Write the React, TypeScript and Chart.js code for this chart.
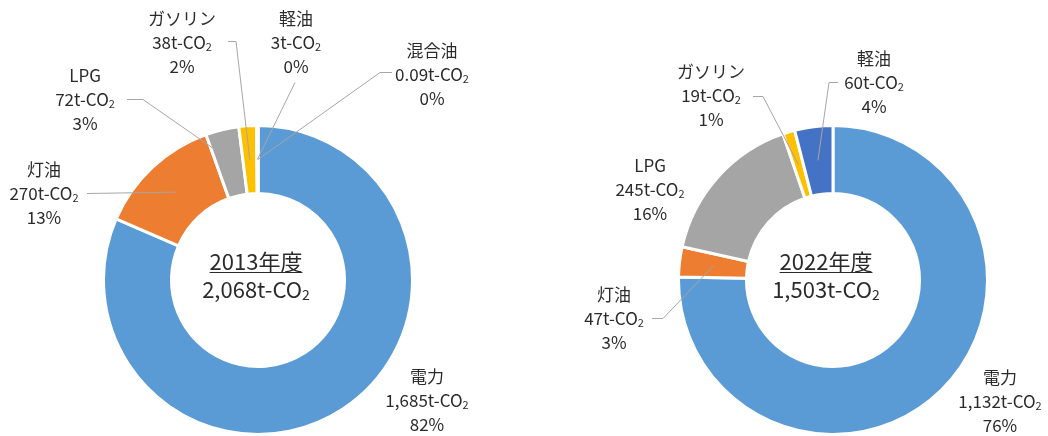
import React, { useEffect, useRef } from "react";
import { Chart, registerables } from "chart.js";

Chart.register(...registerables);

// ---- data ----
const categories2013 = ["電力", "灯油", "LPG", "ガソリン", "軽油", "混合油"];
const values2013 = [1685, 270, 72, 38, 3, 0.09];
const percents2013 = [82, 13, 3, 2, 0, 0];

const categories2022 = ["電力", "灯油", "LPG", "ガソリン", "軽油"];
const values2022 = [1132, 47, 245, 19, 60];
const percents2022 = [76, 3, 16, 1, 4];

const yearLabels = ["2013年度", "2022年度"];
const sliceColors = ["#5B9BD5", "#ED7D31", "#A5A5A5", "#FFC000", "#4472C4", "#70AD47"];

// ---- layout (styles / positions only) ----
const FONT = '"Noto Sans CJK JP", "Noto Sans", sans-serif';
const LABEL_SIZE = 17;
const LINE_H = 24;
const CENTER_SIZE = 22;
const TEXT_COLOR = "#2B2B2B";
const LEADER_COLOR = "#A6A6A6";

type LabelLayout = {
  cx: number;
  y0: number;
  leader?: number[][];
  anchor?: { a: number; r: number };
};

const layout2013 = {
  padding: { left: 102, right: 110, top: 124, bottom: 0 },
  center: { dx: -2, y1: 262, y2: 290 },
  labels: [
    { cx: 427, y0: 377 },
    { cx: 44, y0: 170, leader: [[87, 193]] },
    { cx: 85, y0: 76, leader: [[127, 99], [143, 99]], anchor: { a: 0.11, r: 0.75 } },
    { cx: 182, y0: 19, leader: [[228, 41], [236, 41]] },
    { cx: 296, y0: 19, leader: [[295, 82]] },
    { cx: 432, y0: 51, leader: [[392, 72], [380, 72]] },
  ] as LabelLayout[],
};

const layout2022 = {
  padding: { left: 153, right: 59, top: 124, bottom: 0 },
  center: { dx: -7, y1: 262, y2: 290 },
  labels: [
    { cx: 476, y0: 378 },
    { cx: 90, y0: 295, leader: [[128, 318], [139, 318]] },
    { cx: 126, y0: 166 },
    { cx: 187, y0: 72, leader: [[229, 96], [239, 96]] },
    { cx: 350, y0: 59, leader: [[314, 82], [305, 82]] },
  ] as LabelLayout[],
};

function fmt(v: number): string {
  if (v >= 1000) return v.toLocaleString("en-US");
  return String(v);
}

function drawRich(ctx: CanvasRenderingContext2D, text: string, cx: number, y: number, size: number) {
  const parts = text.split("₂");
  const main = parts[0];
  const hasSub = parts.length > 1;
  ctx.font = `${size}px ${FONT}`;
  const wMain = ctx.measureText(main).width;
  const subSize = Math.round(size * 0.62);
  ctx.font = `${subSize}px ${FONT}`;
  const wSub = hasSub ? ctx.measureText("2").width : 0;
  const total = wMain + wSub;
  const x0 = cx - total / 2;
  ctx.textAlign = "left";
  ctx.textBaseline = "middle";
  ctx.fillStyle = TEXT_COLOR;
  ctx.font = `${size}px ${FONT}`;
  ctx.fillText(main, x0, y);
  if (hasSub) {
    ctx.font = `${subSize}px ${FONT}`;
    ctx.fillText("2", x0 + wMain, y + size * 0.2);
  }
  return { x0, w: total };
}

function makeLabelPlugin(
  categories: string[],
  values: number[],
  percents: number[],
  year: string,
  lay: { center: { dx: number; y1: number; y2: number }; labels: LabelLayout[] }
) {
  return {
    id: "doughnutLabels",
    afterDraw(chart: any) {
      const ctx: CanvasRenderingContext2D = chart.ctx;
      const meta = chart.getDatasetMeta(0);
      ctx.save();
      // leader lines
      ctx.strokeStyle = LEADER_COLOR;
      ctx.lineWidth = 1;
      lay.labels.forEach((l, i) => {
        if (!l.leader) return;
        const arc = meta.data[i];
        const p = arc.getProps(["x", "y", "startAngle", "endAngle", "innerRadius", "outerRadius"], true);
        const af = l.anchor ? l.anchor.a : 0.5;
        const rf = l.anchor ? l.anchor.r : 0.5;
        const ang = p.startAngle + (p.endAngle - p.startAngle) * af;
        const rad = p.innerRadius + (p.outerRadius - p.innerRadius) * rf;
        const ax = p.x + Math.cos(ang) * rad;
        const ay = p.y + Math.sin(ang) * rad;
        ctx.beginPath();
        l.leader.forEach((pt, k) => {
          if (k === 0) ctx.moveTo(pt[0], pt[1] + 0.5);
          else ctx.lineTo(pt[0], pt[1] + 0.5);
        });
        ctx.lineTo(ax, ay);
        ctx.stroke();
      });
      // labels
      lay.labels.forEach((l, i) => {
        const lines = [categories[i], `${fmt(values[i])}t-CO₂`, `${percents[i]}%`];
        lines.forEach((t, k) => drawRich(ctx, t, l.cx, l.y0 + k * LINE_H, LABEL_SIZE));
      });
      // center text
      const arc0 = meta.data[0];
      const cx = arc0.x + lay.center.dx;
      const total = Math.round(values.reduce((s, v) => s + v, 0));
      const r1 = drawRich(ctx, year, cx, lay.center.y1, CENTER_SIZE);
      ctx.strokeStyle = TEXT_COLOR;
      ctx.lineWidth = 1;
      ctx.beginPath();
      ctx.moveTo(r1.x0, lay.center.y1 + 10.5);
      ctx.lineTo(r1.x0 + r1.w, lay.center.y1 + 10.5);
      ctx.stroke();
      drawRich(ctx, `${fmt(total)}t-CO₂`, cx, lay.center.y2, CENTER_SIZE);
      ctx.restore();
    },
  };
}

function Donut(props: {
  categories: string[];
  values: number[];
  percents: number[];
  year: string;
  lay: any;
  left: number;
}) {
  const ref = useRef<HTMLCanvasElement>(null);
  useEffect(() => {
    if (!ref.current) return;
    const chart = new Chart(ref.current, {
      type: "doughnut",
      data: {
        labels: props.categories,
        datasets: [
          {
            data: props.values,
            backgroundColor: sliceColors.slice(0, props.values.length),
            borderColor: "#FFFFFF",
            borderWidth: 3,
            hoverOffset: 0,
            offset: 0,
          },
        ],
      },
      options: {
        responsive: false,
        animation: false,
        cutout: "56%",
        layout: { padding: props.lay.padding },
        plugins: {
          legend: { display: false },
          tooltip: { enabled: false },
        },
      },
      plugins: [makeLabelPlugin(props.categories, props.values, props.percents, props.year, props.lay)],
    } as any);
    return () => chart.destroy();
  }, []);
  return (
    <div style={{ position: "absolute", left: props.left, top: 0, width: 524, height: 436 }}>
      <canvas ref={ref} width={524} height={436} style={{ display: "block", width: 524, height: 436 }} />
    </div>
  );
}

export default function App() {
  return (
    <div style={{ position: "absolute", left: 0, top: 0, width: 1048, height: 436, background: "#FFFFFF" }}>
      <Donut categories={categories2013} values={values2013} percents={percents2013} year={yearLabels[0]} lay={layout2013} left={0} />
      <Donut categories={categories2022} values={values2022} percents={percents2022} year={yearLabels[1]} lay={layout2022} left={524} />
    </div>
  );
}
